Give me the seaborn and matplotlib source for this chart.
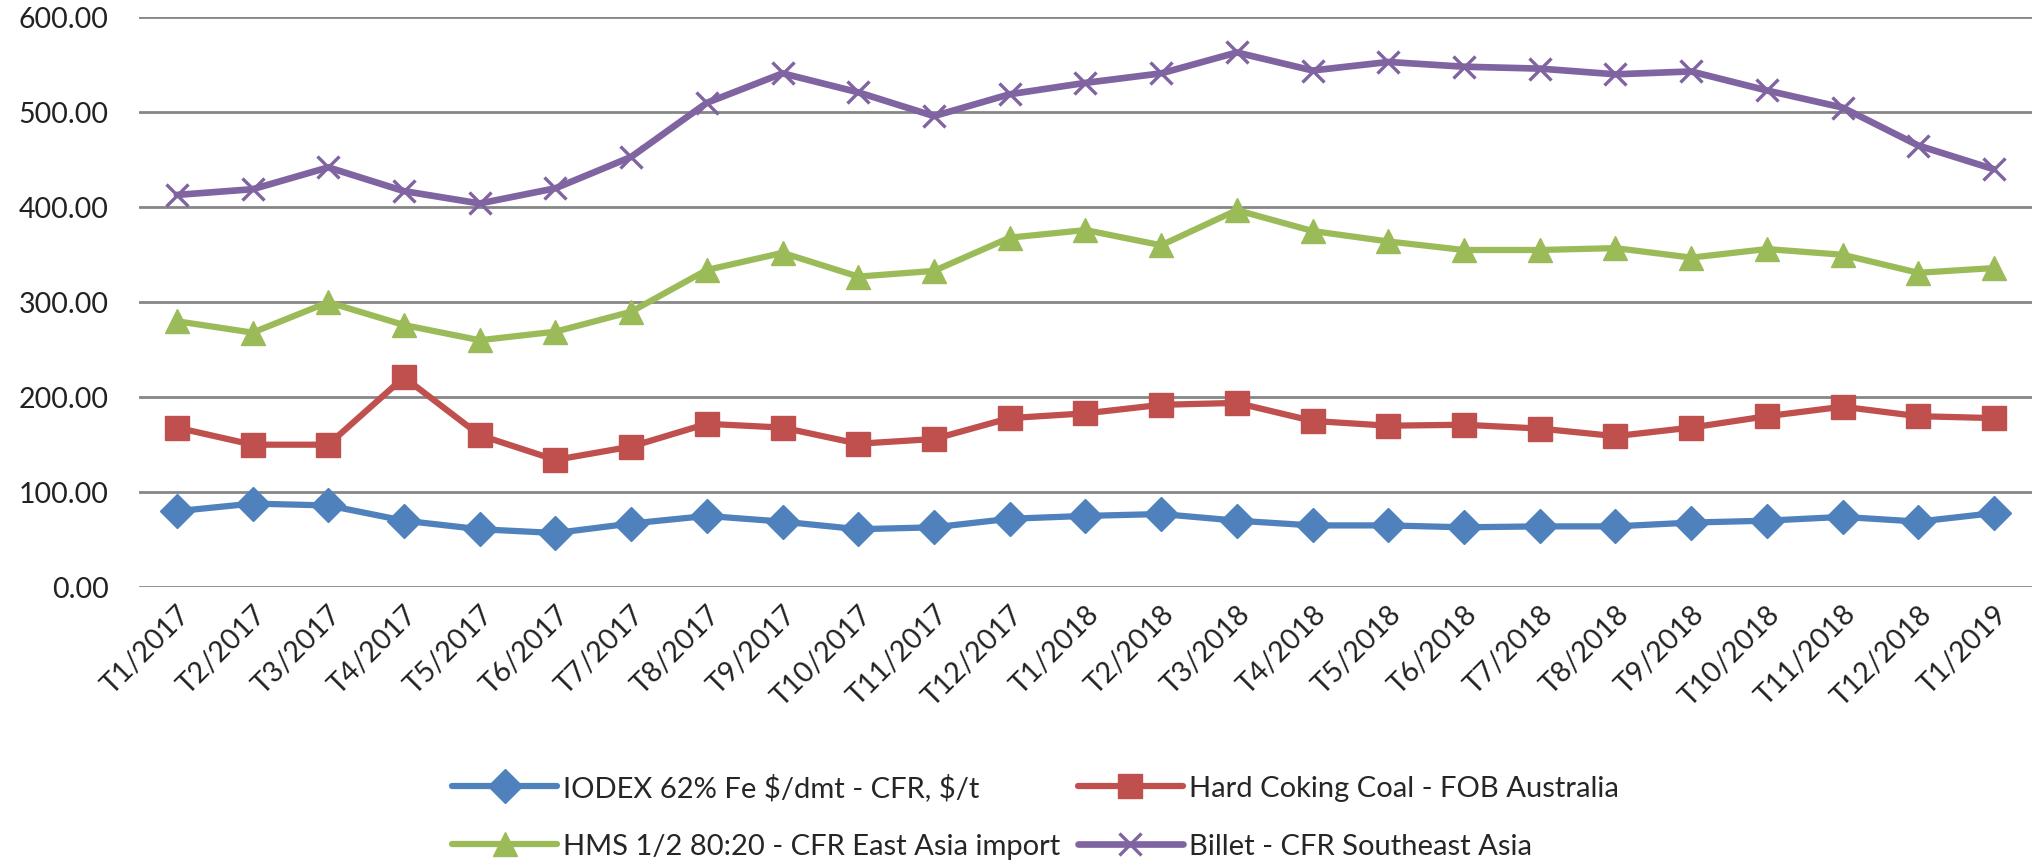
import seaborn as sns
import matplotlib.pyplot as plt
import pandas as pd

months = ["T1/2017", "T2/2017", "T3/2017", "T4/2017", "T5/2017", "T6/2017",
          "T7/2017", "T8/2017", "T9/2017", "T10/2017", "T11/2017", "T12/2017",
          "T1/2018", "T2/2018", "T3/2018", "T4/2018", "T5/2018", "T6/2018",
          "T7/2018", "T8/2018", "T9/2018", "T10/2018", "T11/2018", "T12/2018",
          "T1/2019"]

iodex = [80, 88, 86, 70, 61, 57, 67, 75, 69, 61, 63, 72,
         75, 77, 70, 65, 65, 63, 64, 64, 68, 70, 74, 69, 78]
coal = [168, 150, 150, 221, 160, 134, 148, 172, 168, 151, 156, 178,
        183, 192, 194, 175, 170, 171, 167, 159, 168, 180, 190, 180, 178]
hms = [280, 268, 300, 276, 260, 269, 290, 334, 352, 327, 333, 368,
       376, 360, 397, 375, 364, 355, 355, 357, 347, 356, 350, 331, 336]
billet = [413, 419, 442, 417, 404, 420, 453, 510, 541, 521, 496, 519,
          531, 541, 563, 544, 553, 548, 546, 540, 543, 523, 505, 465, 440]

# \$ so that matplotlib does not read mathtext
names = ["IODEX 62% Fe \\$/dmt - CFR, \\$/t", "Hard Coking Coal - FOB Australia",
         "HMS 1/2 80:20 - CFR East Asia import", "Billet - CFR Southeast Asia"]
colors = ["#4F81BD", "#C0504D", "#9BBB59", "#8064A2"]
markers = ["D", "s", "^", "x"]

sns.set_style("white")
plt.rcParams['font.family'] = ['Lato', 'DejaVu Sans']

fig, ax = plt.subplots(figsize=(20.38, 8.66), dpi=100)
fig.subplots_adjust(left=0.0682, right=0.997, top=0.980, bottom=0.322)

for name, vals, c, m in zip(names, [iodex, coal, hms, billet], colors, markers):
    df = pd.DataFrame({"Month": months, "Price": vals})
    if m == "x":
        sns.lineplot(data=df, x="Month", y="Price", color=c, marker=m,
                     markersize=16, markeredgewidth=2.4, markeredgecolor=c,
                     linewidth=4.8, sort=False, label=name, ax=ax)
    else:
        sns.lineplot(data=df, x="Month", y="Price", color=c, marker=m,
                     markersize=17, markeredgecolor=c, markeredgewidth=1,
                     linewidth=4.5, sort=False, label=name, ax=ax)

ax.set_xlim(-0.5, len(months) - 0.5)
ax.set_ylim(0, 600)
ax.set_yticks(range(0, 601, 100))
ax.set_yticklabels([f"{v:.2f}" for v in range(0, 601, 100)])
ax.yaxis.grid(True, color="#868686", linewidth=2)
ax.xaxis.grid(False)
ax.set_axisbelow(True)
sns.despine(ax=ax, left=True, bottom=True, top=True, right=True)
ax.tick_params(axis="y", length=0, pad=22, labelsize=20.5, colors="#222222")
ax.tick_params(axis="x", length=0, pad=10, labelsize=20.5, colors="#222222")
plt.setp(ax.get_xticklabels(), rotation=45, ha="right", rotation_mode="anchor")
ax.set_xlabel("")
ax.set_ylabel("")

handles, labels = ax.get_legend_handles_labels()
ax.get_legend().remove()
order = [0, 2, 1, 3]
fig.legend([handles[i] for i in order], [labels[i] for i in order],
           ncol=2, loc="center", bbox_to_anchor=(0.508, 0.057), frameon=False,
           fontsize=21, handlelength=3.6, labelspacing=1.1, columnspacing=0.6,
           handletextpad=0.2, borderpad=0)

plt.savefig("out.png", dpi=100)
